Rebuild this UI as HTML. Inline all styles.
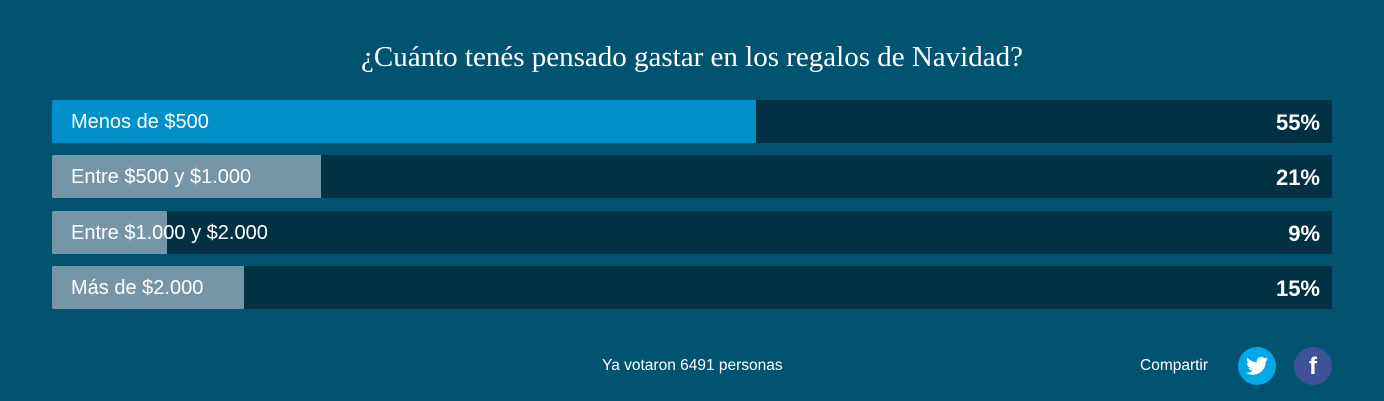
<!DOCTYPE html>
<html><head><meta charset="utf-8"><style>
body{margin:0;width:1384px;height:401px;background:#02536f;position:relative;font-family:"Liberation Sans",sans-serif;overflow:hidden}
.t{position:absolute;top:41px;left:0;width:1384px;text-align:center;font-family:"Liberation Serif",serif;font-size:29px;color:#fff}
.bar{position:absolute;left:52px;width:1280px;height:43px;background:#023145;border-radius:2px;overflow:hidden}
.f{position:absolute;left:0;top:0;height:43px;background:#7496a8}
.l{position:absolute;left:19px;top:1px;line-height:43px;font-size:20px;color:#fff}
.p{position:absolute;right:12px;top:1px;line-height:43px;font-size:22px;font-weight:bold;color:#fff}
.s{position:absolute;font-size:15.5px;color:#fff}
.c{position:absolute;width:38px;height:38px;border-radius:50%;top:347px;color:#fff;text-align:center;line-height:40px;font-weight:bold;font-size:24px}
</style></head><body>
<div class="t">¿Cuánto tenés pensado gastar en los regalos de Navidad?</div>
<div class="bar" style="top:100px"><div class="f" style="width:704px;background:#008fc8"></div><div class="l">Menos de $500</div><div class="p">55%</div></div>
<div class="bar" style="top:155px"><div class="f" style="width:269px"></div><div class="l">Entre $500 y $1.000</div><div class="p">21%</div></div>
<div class="bar" style="top:211px"><div class="f" style="width:115px"></div><div class="l">Entre $1.000 y $2.000</div><div class="p">9%</div></div>
<div class="bar" style="top:266px"><div class="f" style="width:192px"></div><div class="l">Más de $2.000</div><div class="p">15%</div></div>
<div class="s" style="left:602px;top:357px">Ya votaron 6491 personas</div>
<div class="s" style="left:1140px;top:357px">Compartir</div>
<div class="c" style="left:1238px;background:#00a8e6"><svg width="22" height="20" viewBox="0 0 24 20" style="margin-top:9px"><path fill="#fff" d="M24 2.4c-.9.4-1.8.7-2.8.8 1-.6 1.8-1.6 2.2-2.7-1 .6-2 1-3.100 1.200C19.4.7 18.1 0 16.6 0c-2.7 0-4.9 2.2-4.9 4.9 0 .4 0 .8.1 1.1C7.7 5.8 4.1 3.9 1.7.9c-.4.7-.7 1.6-.7 2.5 0 1.7.9 3.2 2.2 4.1-.8 0-1.6-.2-2.2-.6v.1c0 2.4 1.7 4.4 3.9 4.8-.4.1-.8.2-1.3.2-.3 0-.6 0-.9-.1.6 2 2.4 3.4 4.6 3.4-1.7 1.3-3.8 2.1-6.1 2.1-.4 0-.8 0-1.2-.1 2.2 1.4 4.8 2.2 7.500 2.200 9.100 0 14-7.500 14-14v-.6c1-.7 1.8-1.600 2.500-2.500z"/></svg></div>
<div class="c" style="left:1294px;background:#3e5299">f</div>
</body></html>
